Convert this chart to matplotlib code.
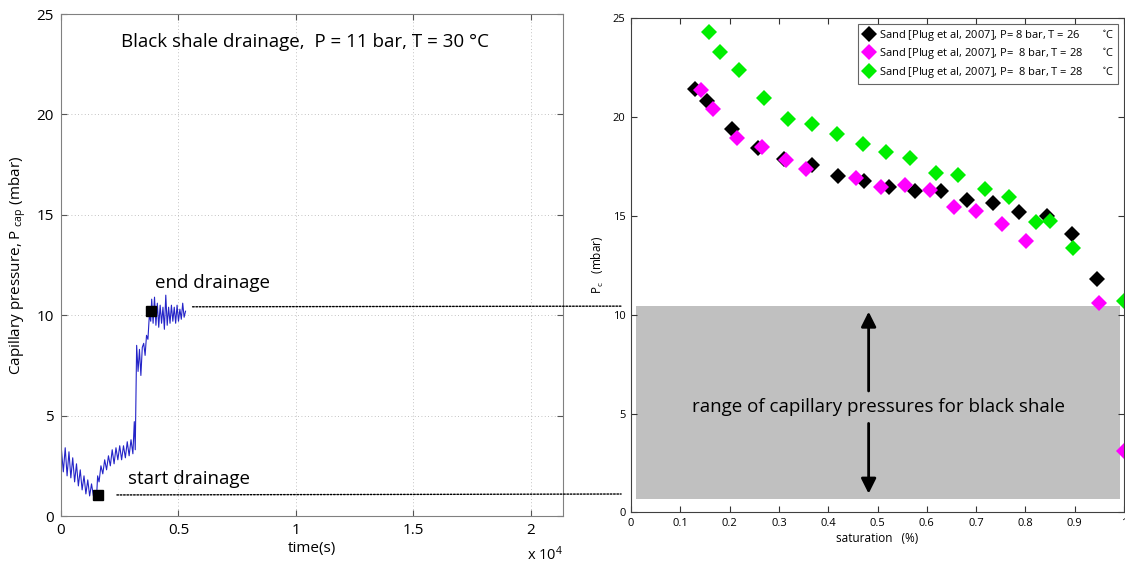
#!/usr/bin/env python3
"""Black shale drainage trace next to Plug et al. (2007) sand Pc curves."""
import matplotlib
matplotlib.use("Agg")
import matplotlib.pyplot as plt
from matplotlib.patches import ConnectionPatch, Rectangle
from matplotlib.ticker import FuncFormatter

plt.rcParams.update({
    "font.family": ["Open Sans", "DejaVu Sans"],
    "mathtext.default": "regular",
    "xtick.direction": "in",
    "ytick.direction": "in",
})

# left panel: drainage trace (time in s, pressure in mbar)
time_s = [0, 20, 100, 180, 260, 340, 420, 500, 580, 660, 740, 820, 900, 980, 1060,
          1140, 1220, 1300, 1380, 1460, 1520, 1560, 1620, 1700, 1780, 1860, 1940, 2020,
          2100, 2180, 2260, 2340, 2420, 2500, 2580, 2660, 2740, 2820, 2900, 2980, 3060,
          3120, 3160, 3220, 3280, 3340, 3400, 3460, 3520, 3580, 3640, 3700, 3760, 3820,
          3860, 3920, 3980, 4040, 4100, 4160, 4220, 4280, 4340, 4400, 4460, 4520, 4580,
          4640, 4700, 4760, 4820, 4880, 4940, 5000, 5060, 5120, 5180, 5240, 5300]
p_cap = [0, 3.3, 2.2, 3.4, 2.0, 3.2, 1.9, 2.9, 1.7, 2.6, 1.5, 2.3, 1.3, 2.0, 1.1,
         1.8, 1.0, 1.6, 1.0, 1.2, 1.1, 2.0, 1.7, 2.5, 2.1, 2.8, 2.3, 3.0,
         2.5, 3.3, 2.6, 3.4, 2.8, 3.5, 2.8, 3.5, 2.9, 3.7, 3.0, 3.8, 3.1,
         4.7, 3.3, 8.5, 7.2, 8.3, 7.0, 8.4, 8.6, 8.0, 9.0, 8.8, 10.0, 9.7,
         10.8, 9.6, 10.9, 9.5, 10.6, 9.4, 10.5, 9.6, 10.4, 9.3, 11.0, 9.5, 10.4,
         9.6, 10.5, 9.7, 10.4, 9.6, 10.5, 9.7, 10.3, 9.8, 10.6, 9.9, 10.2]
mark_t = [1560, 3830]
mark_p = [1.05, 10.2]
start_level = 1.05
end_level = 10.42

# right panel: sand data
sat_black = [0.130, 0.154, 0.205, 0.257, 0.311, 0.368, 0.420, 0.472, 0.523, 0.577,
             0.629, 0.682, 0.735, 0.787, 0.843, 0.895, 0.945]
pc_black = [21.39, 20.81, 19.39, 18.44, 17.89, 17.57, 17.02, 16.76, 16.47, 16.25,
            16.25, 15.78, 15.62, 15.20, 14.98, 14.07, 11.79]
sat_mag = [0.141, 0.167, 0.216, 0.265, 0.314, 0.355, 0.457, 0.507, 0.556, 0.606,
           0.655, 0.700, 0.752, 0.801, 0.949, 1.0]
pc_mag = [21.36, 20.41, 18.95, 18.48, 17.80, 17.38, 16.91, 16.45, 16.58, 16.29,
          15.42, 15.25, 14.58, 13.74, 10.60, 3.13]
sat_green = [0.159, 0.181, 0.219, 0.270, 0.319, 0.368, 0.417, 0.470, 0.518, 0.565,
             0.618, 0.663, 0.719, 0.767, 0.821, 0.849, 0.897, 1.0]
pc_green = [24.31, 23.30, 22.36, 20.95, 19.90, 19.64, 19.13, 18.62, 18.22, 17.93,
            17.16, 17.07, 16.33, 15.93, 14.67, 14.72, 13.37, 10.70]
labels = ["Sand [Plug et al, 2007], P= 8 bar, T = 26        $^{\\circ}$C",
          "Sand [Plug et al, 2007], P=  8 bar, T = 28       $^{\\circ}$C",
          "Sand [Plug et al, 2007], P=  8 bar, T = 28       $^{\\circ}$C"]
shale_range = (0.68, 10.43)

fig = plt.figure(figsize=(11.25, 5.66), dpi=100)
ax1 = fig.add_axes([0.0542, 0.0883, 0.4462, 0.8869])
ax2 = fig.add_axes([0.5609, 0.0947, 0.4382, 0.8735])

# ---- left panel
ax1.plot(time_s, p_cap, color="#2424c8", linewidth=0.8)
ax1.plot(mark_t, mark_p, "s", color="black", markersize=7)
ax1.set_xlim(0, 21360)
ax1.set_ylim(0, 25)
ax1.set_xticks([0, 5000, 10000, 15000, 20000])
ax1.set_yticks([0, 5, 10, 15, 20, 25])
ax1.xaxis.set_major_formatter(FuncFormatter(lambda v, _: f"{v / 1e4:g}"))
ax1.tick_params(labelsize=11, top=True, right=True, length=4, color="#555555", pad=5)
ax1.grid(linestyle=(0, (1, 3)), linewidth=0.6, color="#b0b0b0")
for s in ax1.spines.values():
    s.set_color("#808080")
ax1.set_xlabel("time(s)", fontsize=11, labelpad=2)
ax1.set_ylabel("Capillary pressure, P$_{\\ cap}$ (mbar)", fontsize=11, labelpad=6)
ax1.text(1.0, -0.078, "x 10$^4$", transform=ax1.transAxes, ha="right", va="center",
         fontsize=10.5)
ax1.text(10400, 23.6, "Black shale drainage,  P = 11 bar, T = 30 °C",
         ha="center", va="center", fontsize=13.5)
ax1.text(4000, 11.6, "end drainage", ha="left", va="center", fontsize=13.5)
ax1.text(2850, 1.85, "start drainage", ha="left", va="center", fontsize=13.5)

# ---- right panel
ax2.add_patch(Rectangle((0.01, shale_range[0]), 0.982, shale_range[1] - shale_range[0],
                        facecolor="#c0c0c0", edgecolor="none", zorder=0))
ax2.plot(sat_black, pc_black, "D", color="black", markersize=8, markeredgewidth=0,
         label=labels[0], clip_on=False)
ax2.plot(sat_mag, pc_mag, "D", color="#ff00ff", markersize=8, markeredgewidth=0,
         label=labels[1], clip_on=False)
ax2.plot(sat_green, pc_green, "D", color="#00ee00", markersize=8, markeredgewidth=0,
         label=labels[2], clip_on=False)
ax2.set_xlim(0, 1)
ax2.set_ylim(0, 25)
ax2.set_xticks([0, 0.1, 0.2, 0.3, 0.4, 0.5, 0.6, 0.7, 0.8, 0.9, 1])
ax2.xaxis.set_major_formatter(FuncFormatter(lambda v, _: f"{v:g}"))
ax2.set_yticks([0, 5, 10, 15, 20, 25])
ax2.tick_params(labelsize=8, top=True, right=True, length=4, color="#333333", pad=4)
for s in ax2.spines.values():
    s.set_color("#404040")
ax2.set_xlabel("saturation   (%)", fontsize=8.5, labelpad=2)
ax2.set_ylabel("P$_c$   (mbar)", fontsize=8.5, labelpad=5)
leg = ax2.legend(loc="upper right", fontsize=8, frameon=True, fancybox=False,
                 edgecolor="#404040", handletextpad=0.3, borderaxespad=0.5,
                 handlelength=1.2, labelspacing=0.3)
leg.get_frame().set_linewidth(0.8)
ax2.text(0.503, 5.33, "range of capillary pressures for black shale",
         ha="center", va="center", fontsize=13.5)
arrow = dict(arrowstyle="-|>,head_width=0.45,head_length=0.9", color="black", lw=2,
             shrinkA=0, shrinkB=0)
ax2.annotate("", xy=(0.482, 10.15), xytext=(0.482, 6.14), arrowprops=arrow)
ax2.annotate("", xy=(0.482, 0.95), xytext=(0.482, 4.5), arrowprops=arrow)

# dotted guides from the trace to the sand panel
for t0, y_left, y_right in [(5600, end_level, 10.43), (2380, start_level, 0.93)]:
    con = ConnectionPatch(xyA=(t0, y_left), coordsA=ax1.transData,
                          xyB=(-0.02, y_right), coordsB=ax2.transData,
                          linestyle=(0, (1.2, 1.2)), color="black", linewidth=1.0)
    fig.add_artist(con)

fig.savefig("out.png", dpi=100)
